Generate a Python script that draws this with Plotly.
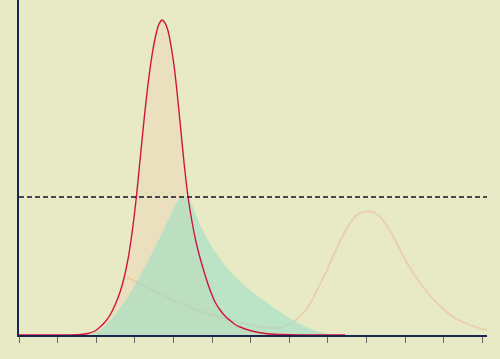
import plotly.graph_objects as go

# Red peaked curve (x in tick units, y in fraction of plot height)
red_x = [0.0, 1.062, 1.580, 1.788, 1.969, 2.098, 2.228, 2.358, 2.487, 2.617,
         2.720, 2.824, 2.927, 3.031, 3.135, 3.238, 3.342, 3.446, 3.549, 3.627,
         3.705, 3.782, 3.860, 3.938, 4.016, 4.093, 4.171, 4.275, 4.378, 4.482,
         4.585, 4.689, 4.819, 4.948, 5.078, 5.207, 5.337, 5.466, 5.596, 5.725,
         5.984, 6.373, 6.762, 8.446]
red_y = [0.0, 0.0, 0.0015, 0.0045, 0.0119, 0.0239, 0.0388, 0.0597, 0.0896, 0.1284,
         0.1701, 0.2269, 0.3045, 0.4030, 0.5224, 0.6418, 0.7493, 0.8358, 0.8985, 0.9284,
         0.9403, 0.9313, 0.9075, 0.8627, 0.8030, 0.7254, 0.6358, 0.5134, 0.4119, 0.3373,
         0.2776, 0.2299, 0.1791, 0.1343, 0.0985, 0.0746, 0.0567, 0.0433, 0.0313, 0.0239,
         0.0134, 0.0045, 0.0015, 0.0]

# Green filled curve
green_x = [1.710, 1.891, 2.098, 2.306, 2.539, 2.798, 3.057, 3.342, 3.601, 3.808,
           3.964, 4.067, 4.171, 4.275, 4.378, 4.482, 4.585, 4.689, 4.819, 4.948,
           5.078, 5.207, 5.415, 5.622, 5.855, 6.114, 6.373, 6.684, 7.021, 7.358,
           7.668, 8.057, 8.316]
green_y = [0.0, 0.0030, 0.0149, 0.0358, 0.0687, 0.1104, 0.1612, 0.2209, 0.2806, 0.3284,
           0.3701, 0.3940, 0.4075, 0.4119, 0.4060, 0.3881, 0.3582, 0.3284, 0.2985, 0.2716,
           0.2478, 0.2269, 0.1970, 0.1716, 0.1463, 0.1224, 0.1000, 0.0746, 0.0493, 0.0284,
           0.0134, 0.0015, 0.0]

# Light orange line with a second bump
orange_x = [2.798, 3.135, 3.653, 4.171, 4.689, 5.337, 5.984, 6.373, 6.632, 6.839, 7.021, 7.202,
            7.409, 7.591, 7.798, 7.979, 8.187, 8.394, 8.575, 8.756, 8.912, 9.067, 9.223, 9.378,
            9.534, 9.741, 9.948, 10.207, 10.466, 10.725, 10.984, 11.295, 11.606, 11.865, 12.124]
orange_y = [0.1731, 0.1522, 0.1224, 0.0955, 0.0716, 0.0478, 0.0299, 0.0224, 0.0200, 0.0239, 0.0328, 0.0478,
            0.0716, 0.1045, 0.1522, 0.1940, 0.2478, 0.2985, 0.3343, 0.3582, 0.3672, 0.3687, 0.3642, 0.3493,
            0.3254, 0.2836, 0.2358, 0.1851, 0.1433, 0.1075, 0.0776, 0.0507, 0.0328, 0.0224, 0.0149]

threshold = 0.412
x_max = 12.12
tick_values = list(range(0, 13))

BG = "#e8e9c5"
NAVY = "#1c2452"
SPL = dict(shape="spline", smoothing=1.0)

fig = go.Figure()

fig.add_trace(go.Scatter(
    x=red_x, y=red_y, mode="lines", line=dict(color="rgba(0,0,0,0)", width=0, **SPL),
    fill="tozeroy", fillcolor="rgba(240,210,180,0.38)", hoverinfo="skip", showlegend=False))

fig.add_trace(go.Scatter(
    x=orange_x, y=orange_y, mode="lines",
    line=dict(color="rgba(235,175,140,0.45)", width=1.8, **SPL),
    showlegend=False))

fig.add_trace(go.Scatter(
    x=green_x, y=green_y, mode="lines", line=dict(color="rgba(0,0,0,0)", width=0, **SPL),
    fill="tozeroy", fillcolor="rgba(150,222,196,0.55)", showlegend=False))

fig.add_trace(go.Scatter(
    x=red_x, y=red_y, mode="lines",
    line=dict(color="#d0143c", width=1.4, **SPL),
    showlegend=False))

fig.add_trace(go.Scatter(
    x=[0, x_max], y=[threshold, threshold], mode="lines",
    line=dict(color="#15172e", width=1.5, dash="5px,3px"),
    showlegend=False))

fig.update_layout(
    width=500, height=359,
    margin=dict(l=19, r=13, t=0, b=24),
    paper_bgcolor=BG, plot_bgcolor=BG,
    showlegend=False,
)
fig.update_xaxes(range=[0, x_max], tickvals=tick_values, ticks="outside", ticklen=6,
                 tickcolor="#666666", tickwidth=1, showticklabels=False, showgrid=False,
                 zeroline=False, showline=True, linecolor=NAVY, linewidth=2)
fig.update_yaxes(range=[0, 1], showticklabels=False, ticks="", showgrid=False,
                 zeroline=False, showline=True, linecolor=NAVY, linewidth=2)

fig.write_html("out.html")
